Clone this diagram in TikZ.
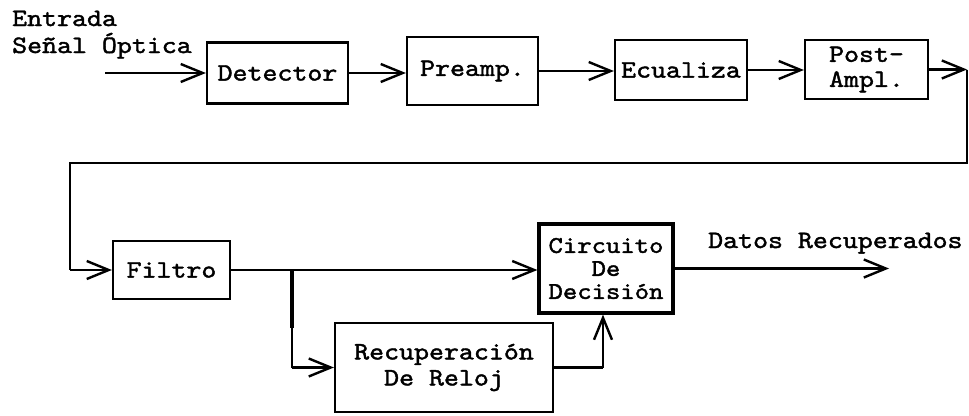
\documentclass[tikz,border=0pt]{standalone}
\usepackage{fontspec}
\newfontfamily\cour[Extension=.otf,FakeStretch=1.14,FakeBold=1.6]{lmmono10-regular}
\usetikzlibrary{arrows.meta}
\tikzset{
  blk/.style={draw, line width=2.2pt, inner sep=0pt, align=center,
    font=\cour\fontsize{25}{24}\selectfont},
  lbl/.style={inner sep=0pt, font=\cour\fontsize{25}{24}\selectfont},
  conn/.style={line width=2.2pt, line join=miter},
  arr/.style={conn, -{Straight Barb[length=22pt,width=18pt,line width=2.4pt]}},
}
\begin{document}
\begin{tikzpicture}[x=1pt,y=-1pt]
\useasboundingbox[fill=white] (0,0) rectangle (969,415);
% labels
\node[lbl, anchor=base west] (ent) at (12,26) {Entrada};
\node[lbl, anchor=base west] (sen) at (12,53) {Señal Óptica};
\node[lbl, anchor=base west] (dat) at (708,248) {Datos Recuperados};
% blocks
\node[blk, minimum width=141pt, minimum height=61pt] (det) at (277.5,73) {Detector};
\node[blk, minimum width=131pt, minimum height=68pt] (pre) at (472.5,71) {Preamp.};
\node[blk, minimum width=132pt, minimum height=60pt] (ecu) at (681,70) {Ecualiza};
\node[blk, minimum width=123pt, minimum height=59pt, font=\cour\fontsize{25}{25}\selectfont] (post) at (866.5,69.5) {Post-\\Ampl.};
\node[blk, minimum width=117pt, minimum height=58pt] (fil) at (171.5,270) {Filtro};
\node[blk, line width=3.2pt, minimum width=134pt, minimum height=89pt, font=\cour\fontsize{24}{23}\selectfont] (cir) at (606,268.5) {Circuito\\De\\Decisión};
\node[blk, minimum width=218pt, minimum height=89pt, font=\cour\fontsize{25}{26}\selectfont] (rec) at (444,367.5) {Recuperación\\De Reloj};
% coordinates
\coordinate (in) at (105,73);
\coordinate (c1) at (967,69.5);
\coordinate (c2) at (967,163);
\coordinate (c3) at (70,163);
\coordinate (br) at (292,270);
\coordinate (brt) at (292,328);
\coordinate (tap) at (603,367.5);
\coordinate (out) at (889,268.5);
% connectors
\draw[arr] (in) -- (det.west);
\draw[arr] (det.east) -- (det.east -| pre.west);
\draw[arr] (pre.east) -- (pre.east -| ecu.west);
\draw[arr] (ecu.east) -- (ecu.east -| post.west);
\draw[arr] (post.east) -- (c1);
\draw[conn] (c1) -- (c2) -- (c3) -- (c3 |- fil.west);
\draw[arr] (c3 |- fil.west) -- (fil.west);
\draw[arr] (fil.east) -- (fil.east -| cir.west);
\draw[conn] (br) -- (br |- rec.west);
\draw[line width=3.8pt] (br) -- (brt);
\draw[arr] (br |- rec.west) -- (rec.west);
\draw[conn] (rec.east) -- (tap);
\draw[arr] (tap) -- (tap |- cir.south);
\draw[arr] (cir.east) -- (out);
\end{tikzpicture}
\end{document}
